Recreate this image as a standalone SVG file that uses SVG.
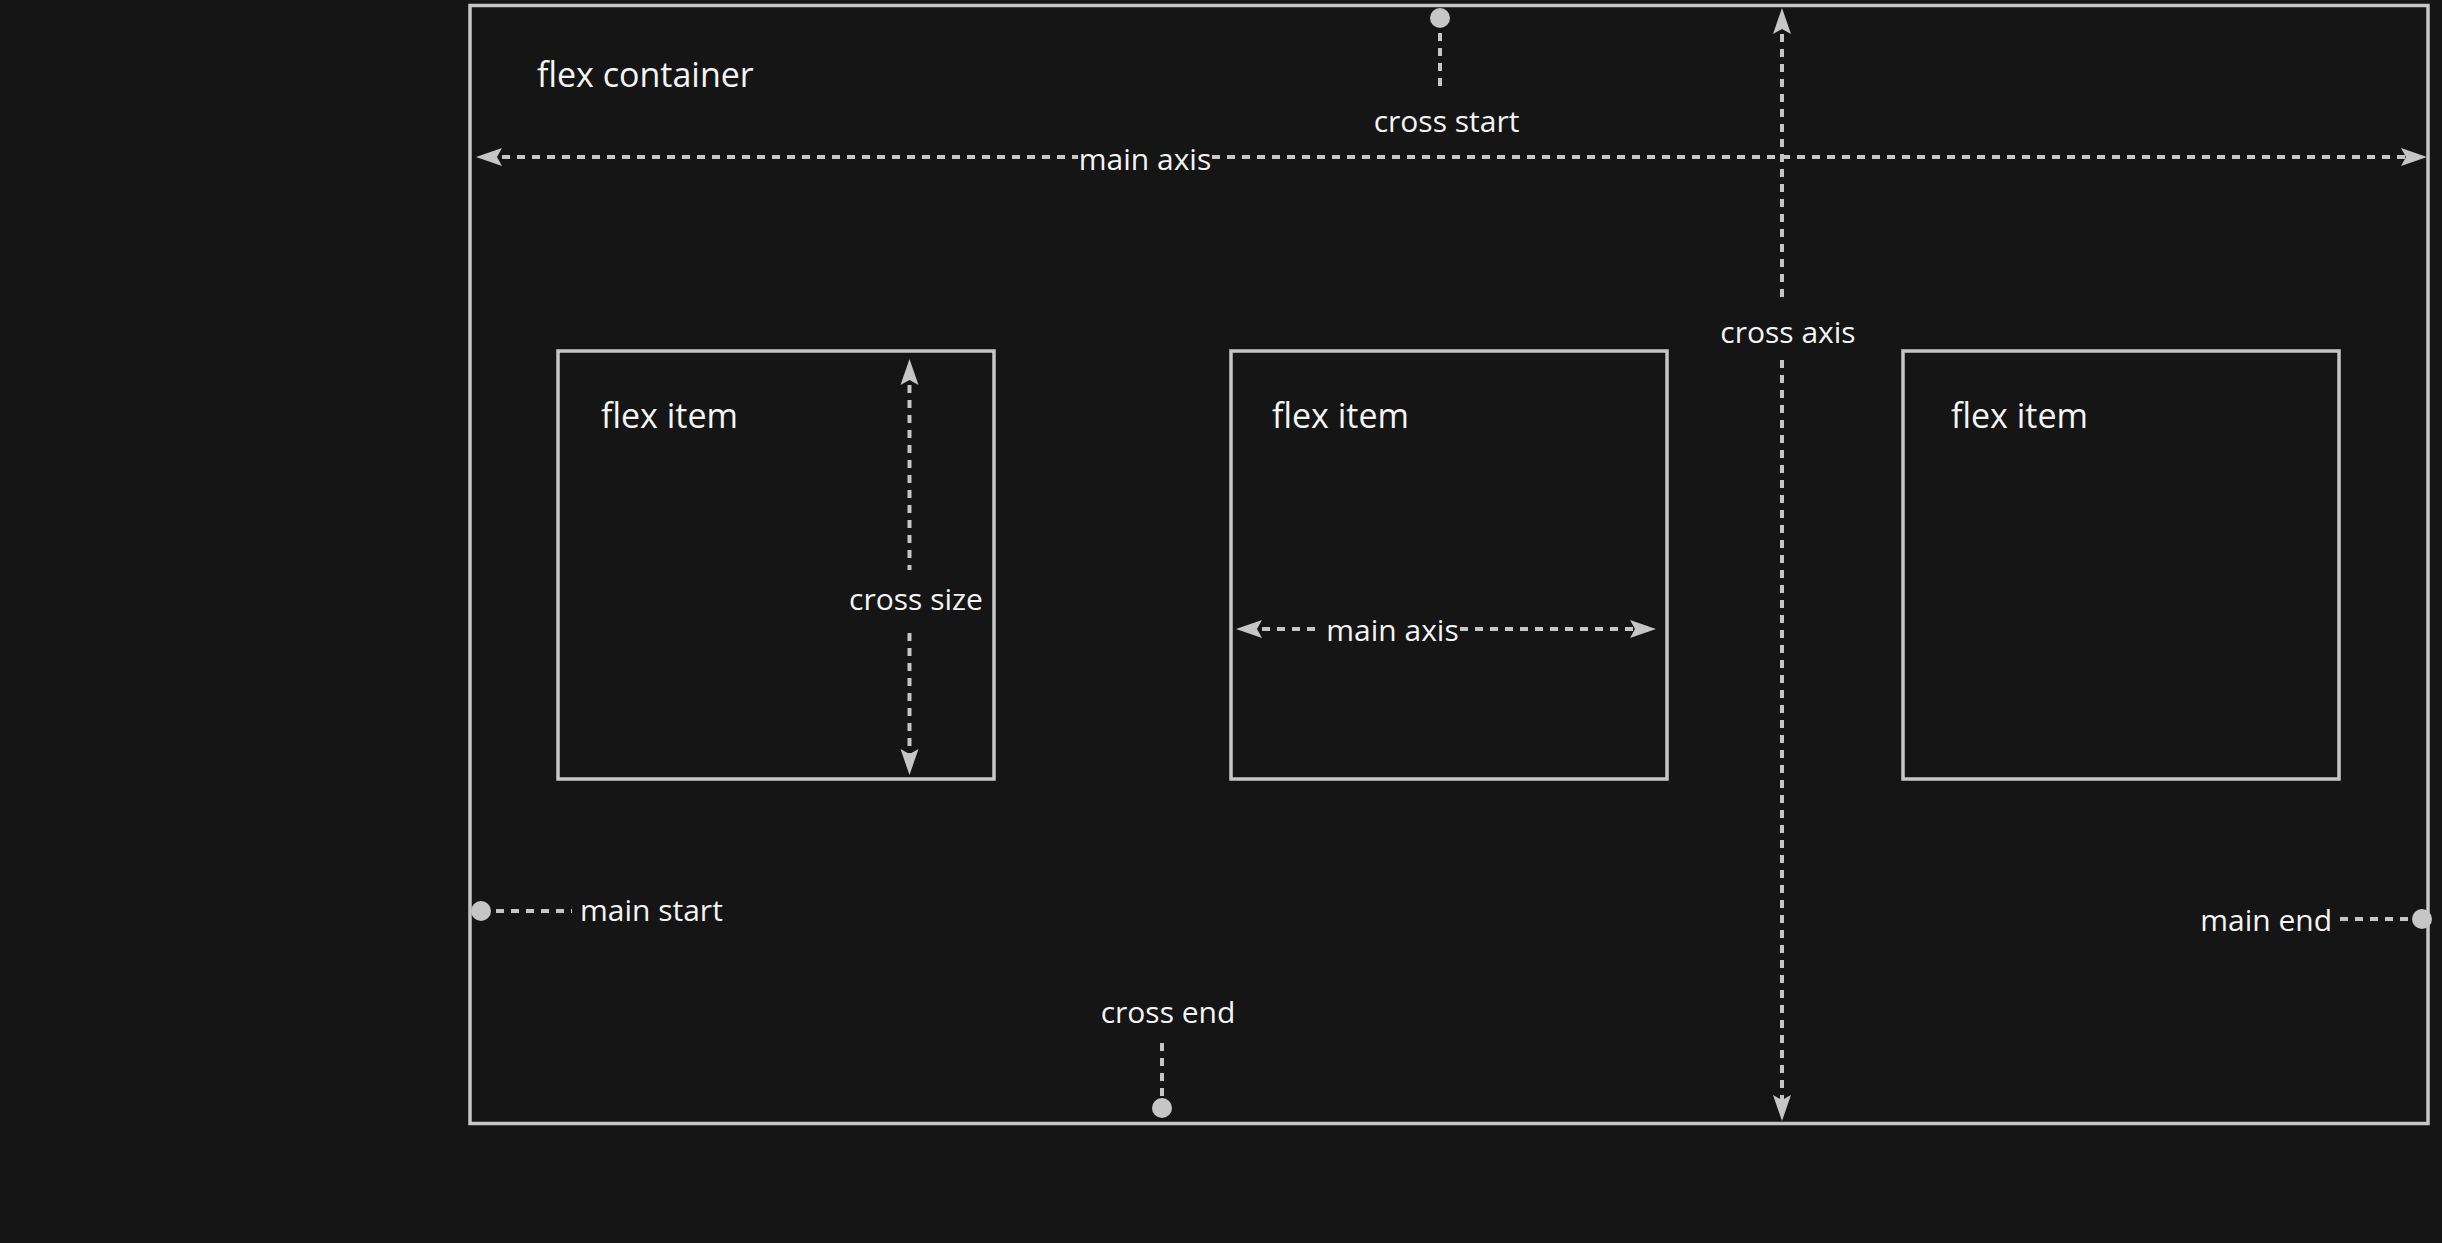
<svg xmlns="http://www.w3.org/2000/svg" width="2442" height="1243" viewBox="0 0 2442 1243">
  <defs>
    <style>
      .box { fill: none; stroke: #c6c6c6; stroke-width: 3.5; }
      .dash { fill: none; stroke: #c6c6c6; stroke-width: 4; stroke-dasharray: 8 7; }
      .dot { fill: #c6c6c6; }
      .title { font-family: "Open Sans", "Noto Sans", sans-serif; font-size: 34px; fill: #f4f4f4; }
      .lbl { font-family: "Open Sans", "Noto Sans", sans-serif; font-size: 30px; fill: #f4f4f4; }
    </style>
    <marker id="arr" markerUnits="userSpaceOnUse" markerWidth="26" markerHeight="20" viewBox="0 0 26 20" refX="15" refY="10" orient="auto-start-reverse">
      <path d="M0,1 L26,10 L0,19 L5,10 Z" fill="#c6c6c6"/>
    </marker>
  </defs>
  <rect width="2442" height="1243" fill="#151515"/>

  <g id="flex-container">
    <rect class="box" x="470" y="5.5" width="1958" height="1118"/>
    <text class="title" x="537" y="87">flex container</text>
  </g>

  <g id="flex-item-1">
    <rect class="box" x="558" y="351" width="436" height="428"/>
    <text class="title" x="601" y="428">flex item</text>
  </g>
  <g id="flex-item-2">
    <rect class="box" x="1231" y="351" width="436" height="428"/>
    <text class="title" x="1272" y="428">flex item</text>
  </g>
  <g id="flex-item-3">
    <rect class="box" x="1903" y="351" width="436" height="428"/>
    <text class="title" x="1951" y="428">flex item</text>
  </g>

  <g id="connectors">
    <!-- container main axis -->
    <line class="dash" x1="487" y1="157" x2="1078" y2="157" marker-start="url(#arr)"/>
    <line class="dash" x1="1212" y1="157" x2="2416" y2="157" marker-end="url(#arr)"/>
    <!-- cross axis -->
    <line class="dash" x1="1782" y1="19" x2="1782" y2="303" marker-start="url(#arr)"/>
    <line class="dash" x1="1782" y1="360" x2="1782" y2="1110" marker-end="url(#arr)"/>
    <!-- cross size -->
    <line class="dash" x1="909.5" y1="370" x2="909.5" y2="570" marker-start="url(#arr)"/>
    <line class="dash" x1="909.5" y1="633" x2="909.5" y2="764" marker-end="url(#arr)"/>
    <!-- item main axis -->
    <line class="dash" x1="1247" y1="629" x2="1320" y2="629" marker-start="url(#arr)"/>
    <line class="dash" x1="1460" y1="629" x2="1645" y2="629" marker-end="url(#arr)"/>
    <!-- cross start -->
    <line class="dash" x1="1440" y1="18" x2="1440" y2="92"/>
    <circle class="dot" cx="1440" cy="18" r="10"/>
    <!-- cross end -->
    <line class="dash" x1="1162" y1="1043" x2="1162" y2="1108"/>
    <circle class="dot" cx="1162" cy="1108" r="10"/>
    <!-- main start -->
    <line class="dash" x1="481" y1="911" x2="572" y2="911"/>
    <circle class="dot" cx="481" cy="911" r="10"/>
    <!-- main end -->
    <line class="dash" x1="2340" y1="919" x2="2422" y2="919"/>
    <circle class="dot" cx="2422" cy="919" r="10"/>
  </g>

  <g id="labels">
    <text class="lbl" x="1145" y="170" text-anchor="middle">main axis</text>
    <text class="lbl" x="1788" y="343" text-anchor="middle">cross axis</text>
    <text class="lbl" x="916" y="610" text-anchor="middle">cross size</text>
    <text class="lbl" x="1392.5" y="641" text-anchor="middle">main axis</text>
    <text class="lbl" x="1446.5" y="132" text-anchor="middle">cross start</text>
    <text class="lbl" x="1168" y="1023" text-anchor="middle">cross end</text>
    <text class="lbl" x="580" y="921">main start</text>
    <text class="lbl" x="2332" y="931" text-anchor="end">main end</text>
  </g>
</svg>
